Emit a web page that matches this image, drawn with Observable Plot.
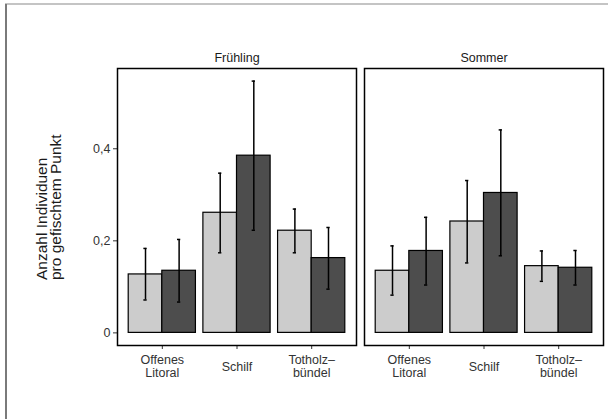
<!DOCTYPE html>
<html><head><meta charset="utf-8">
<script src="https://cdn.jsdelivr.net/npm/d3@7"></script>
<script src="https://cdn.jsdelivr.net/npm/@observablehq/plot@0.6"></script>
<style>
body{margin:0;background:#fff;}
#wrap{position:relative;width:608px;height:419px;overflow:hidden;background:#fff;}
#wrap svg{position:absolute;left:0;top:0;}
#bl{position:absolute;left:5px;top:4px;width:2px;height:415px;background:#7a7a7a;}
#bt{position:absolute;left:5px;top:3px;width:603px;height:2px;background:#c4c4c4;}
</style></head><body><div id="wrap"></div>
<script>
// categories
const seasons = ["Frühling", "Sommer"];
const habitats = ["Offenes Litoral", "Schilf", "Totholzbündel"];
const habitatLabels = ["Offenes\nLitoral", "Schilf", "Totholz–\nbündel"];
const groups = ["Gruppe 1", "Gruppe 2"];
const yTicks = [0, 0.2, 0.4];
const yTickLabels = ["0", "0,2", "0,4"];

// series values (season, habitat, group order)
const rowSeason  = ["Frühling","Frühling","Frühling","Frühling","Frühling","Frühling","Sommer","Sommer","Sommer","Sommer","Sommer","Sommer"];
const rowHabitat = ["Offenes Litoral","Offenes Litoral","Schilf","Schilf","Totholzbündel","Totholzbündel","Offenes Litoral","Offenes Litoral","Schilf","Schilf","Totholzbündel","Totholzbündel"];
const rowGroup   = ["Gruppe 1","Gruppe 2","Gruppe 1","Gruppe 2","Gruppe 1","Gruppe 2","Gruppe 1","Gruppe 2","Gruppe 1","Gruppe 2","Gruppe 1","Gruppe 2"];
const rowMean    = [0.127, 0.135, 0.261, 0.385, 0.222, 0.1625, 0.135, 0.178, 0.242, 0.304, 0.145, 0.1415];
const rowLower   = [0.0715, 0.067, 0.174, 0.223, 0.174, 0.095, 0.082, 0.104, 0.152, 0.1675, 0.112, 0.104];
const rowUpper   = [0.1835, 0.203, 0.347, 0.547, 0.269, 0.229, 0.189, 0.251, 0.331, 0.441, 0.178, 0.179];

const dodge = 0.45;
const rows = rowMean.map((m, i) => {
  const h = habitats.indexOf(rowHabitat[i]) + 1;
  const g = groups.indexOf(rowGroup[i]);
  const x1 = h - dodge + g * dodge;
  return {season: rowSeason[i], habitat: rowHabitat[i], group: rowGroup[i],
          mean: m, lo: rowLower[i], hi: rowUpper[i], x1, x2: x1 + dodge, xc: x1 + dodge / 2};
});
const labelRows = seasons.flatMap(s => habitats.map((h, j) => ({season: s, h: j + 1, label: habitatLabels[j]})));

const capHalf = 0.022;
const font = "'Liberation Sans', Arial, Helvetica, sans-serif";

const chart = Plot.plot({
  width: 608, height: 419,
  marginLeft: 117, marginRight: 5, marginTop: 68, marginBottom: 74,
  style: {fontFamily: font, background: "transparent"},
  fx: {domain: seasons, paddingInner: 0.0324, paddingOuter: 0, label: null},
  x: {domain: [0.4, 3.6]},
  y: {domain: [-0.0274, 0.5744]},
  color: {domain: groups, range: ["#CCCCCC", "#4D4D4D"]},
  marks: [
    Plot.axisFx({anchor: "top", tickSize: 0, tickPadding: 7, label: null, fontSize: 12.5, color: "#1a1a1a"}),
    Plot.axisY({ticks: yTicks, tickFormat: d => yTickLabels[yTicks.indexOf(d)], tickSize: 4, tickPadding: 3, label: null, fontSize: 12.5, color: "#333"}),
    Plot.axisX({ticks: [1, 2, 3], tickSize: 4, tickFormat: () => "", label: null, color: "#333"}),
    Plot.rect(rows, {fx: "season", x1: "x1", x2: "x2", y1: 0, y2: "mean", fill: "group", stroke: "black", strokeWidth: 1.2}),
    Plot.ruleX(rows, {fx: "season", x: "xc", y1: "lo", y2: "hi", stroke: "black", strokeWidth: 1.5}),
    Plot.ruleY(rows, {fx: "season", y: "hi", x1: d => d.xc - capHalf, x2: d => d.xc + capHalf, stroke: "black", strokeWidth: 1.5}),
    Plot.ruleY(rows, {fx: "season", y: "lo", x1: d => d.xc - capHalf, x2: d => d.xc + capHalf, stroke: "black", strokeWidth: 1.5}),
    Plot.frame({stroke: "black", strokeWidth: 1.5}),
    Plot.text(labelRows, {fx: "season", x: "h", text: "label", frameAnchor: "bottom", dy: 21, lineAnchor: "middle", lineHeight: 1.07, fontSize: 12.5, fill: "#333"}),
    Plot.text([seasons[0]], {fx: d => d, text: () => "Anzahl Individuen\npro gefischtem Punkt", frameAnchor: "left", rotate: -90, dx: -68, dy: 73, lineAnchor: "middle", lineHeight: 0.92, fontSize: 15.5, fill: "#1a1a1a"})
  ]
});
const wrap = document.getElementById("wrap");
wrap.appendChild(chart);
const bt = document.createElement("div"); bt.id = "bt"; wrap.appendChild(bt);
const bl = document.createElement("div"); bl.id = "bl"; wrap.appendChild(bl);
</script>
</body></html>
